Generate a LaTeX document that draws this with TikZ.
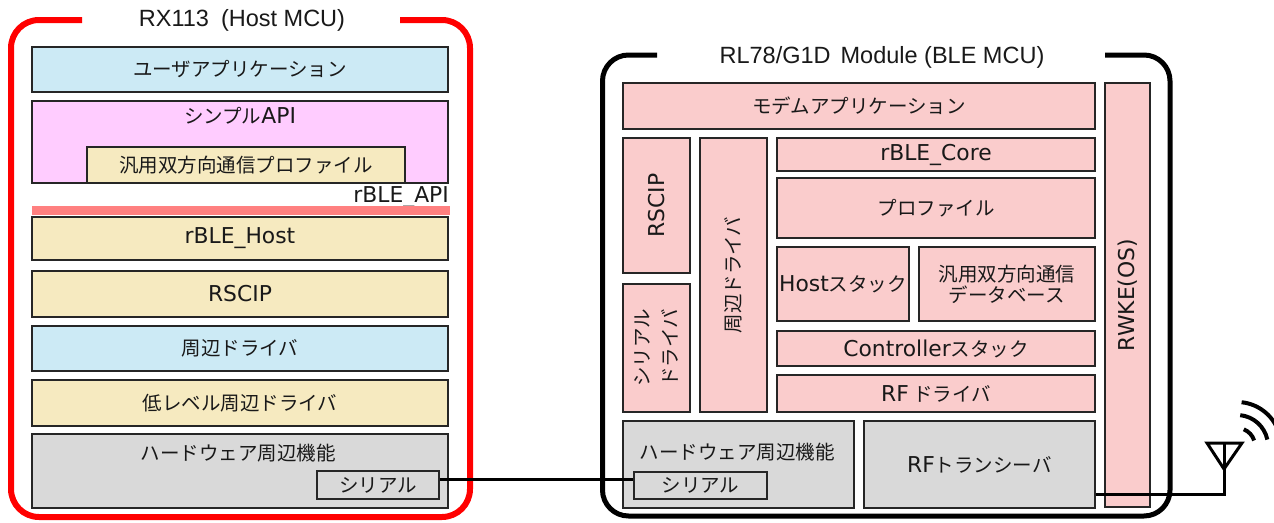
\documentclass[tikz,border=0pt]{standalone}
\usepackage{fontspec}
\usepackage{graphicx}
\setmainfont{Noto Sans CJK JP}
\newfontfamily\lat{DejaVu Sans}[Scale=1.12]
\newfontfamily\ttlf{Liberation Sans}
\definecolor{blueF}{RGB}{204,234,245}
\definecolor{pinkF}{RGB}{255,204,255}
\definecolor{beigeF}{RGB}{246,234,192}
\definecolor{redbar}{RGB}{255,128,128}
\definecolor{rpink}{RGB}{250,204,204}
\definecolor{grayF}{RGB}{217,217,217}
\definecolor{frameRed}{RGB}{255,0,0}
\begin{document}
\begin{tikzpicture}[x=1pt,y=-1pt,
  box/.style={draw=black!85, line width=1.8pt, inner sep=0pt, text=black!90,
    font=\fontsize{19.5}{22}\selectfont},
  txt/.style={inner sep=0pt, text=black!90, font=\fontsize{19.5}{22}\selectfont},
  titletext/.style={inner sep=0pt, text=black!90, font=\ttlf\fontsize{23.5}{27}\selectfont},
  frameL/.style={draw=frameRed, line width=6pt, rounded corners=28pt},
  frameR/.style={draw=black, line width=5pt, rounded corners=26pt},
  conn/.style={draw=black, line width=3pt},
  antline/.style={draw=black, line width=3pt, line join=miter},
  wave/.style={draw=black, line width=4pt}]
\useasboundingbox[fill=white] (0,0) rectangle (1274,522);

% ---------- frames ----------
\draw[frameL] (82,20) -- (11,20) -- (11,517) -- (470,517) -- (470,20) -- (400,20);
\node[titletext] (tL) at (242,20) {RX113\hspace{12pt}(Host MCU)};
\draw[frameR] (657,55) -- (602.5,55) -- (602.5,516) -- (1170,516) -- (1170,55) -- (1105,55);
\node[titletext] (tR) at (882,57) {RL78/G1D\hspace{10pt}Module (BLE MCU)};

% ---------- left (host MCU) ----------
\node[box, fill=blueF, minimum width=416pt, minimum height=45pt] (ua) at (240,69.5) {ユーザアプリケーション};
\node[box, fill=pinkF, minimum width=416pt, minimum height=82pt] (simple) at (240,142) {};
\node[txt] (simpleT) at (240,116) {シンプル{\lat API}};
\node[box, fill=beigeF, minimum width=318pt, minimum height=36pt] (gp) at (246,165) {汎用双方向通信プロファイル};
\node[txt, anchor=east] (api) at (449,197) {\lat rBLE\_API};
\node[fill=redbar, inner sep=0pt, minimum width=418pt, minimum height=9pt] (bar) at (241,210.5) {};
\node[box, fill=beigeF, minimum width=416pt, minimum height=43pt] (host) at (240,238.5) {\lat rBLE\_Host};
\node[box, fill=beigeF, minimum width=416pt, minimum height=46pt] (rscipL) at (240,294) {\lat RSCIP};
\node[box, fill=blueF, minimum width=416pt, minimum height=45pt] (periL) at (240,348.5) {周辺ドライバ};
\node[box, fill=beigeF, minimum width=416pt, minimum height=46pt] (llpd) at (240,403) {低レベル周辺ドライバ};
\node[box, fill=grayF, minimum width=416pt, minimum height=74pt] (hwL) at (240,471) {};
\node[txt] (hwLT) at (238,453) {ハードウェア周辺機能};
\node[box, fill=grayF, minimum width=122pt, minimum height=28pt] (serL) at (378,485) {シリアル};

% ---------- right (BLE MCU) ----------
\node[box, fill=rpink, minimum width=472pt, minimum height=46pt] (modem) at (859,106) {モデムアプリケーション};
\node[box, fill=rpink, rotate=90, minimum width=424pt, minimum height=45pt] (rwke) at (1127.5,295) {\lat RWKE(OS)};
\node[box, fill=rpink, rotate=90, minimum width=135pt, minimum height=67pt] (rscipR) at (656.5,205.5) {\lat RSCIP};
\node[box, fill=rpink, rotate=90, minimum width=128pt, minimum height=67pt, align=center,
  font=\fontsize{19.5}{28}\selectfont] (serdrv) at (656.5,348) {シリアル\\ドライバ};
\node[box, fill=rpink, rotate=90, minimum width=274pt, minimum height=67pt] (periR) at (733.5,275) {周辺ドライバ};
\node[box, fill=rpink, minimum width=318pt, minimum height=33pt] (core) at (936,154.5) {\lat rBLE\_Core};
\node[box, fill=rpink, minimum width=318pt, minimum height=60pt] (prof) at (936,208) {プロファイル};
\node[box, fill=rpink, minimum width=132pt, minimum height=74pt] (hoststk) at (843,284) {{\lat Host}スタック};
\node[box, fill=rpink, minimum width=176pt, minimum height=74pt, align=center,
  font=\fontsize{19.5}{21}\selectfont] (gpdb) at (1007,284) {汎用双方向通信\\データベース};
\node[box, fill=rpink, minimum width=318pt, minimum height=35pt] (ctrl) at (936,348.5) {{\lat Controller}スタック};
\node[box, fill=rpink, minimum width=318pt, minimum height=37pt] (rfdrv) at (936,393.5) {{\lat RF} ドライバ};
\node[box, fill=grayF, minimum width=231pt, minimum height=87pt] (hwR) at (738.5,464.5) {};
\node[txt] (hwRT) at (737,452) {ハードウェア周辺機能};
\node[box, fill=grayF, minimum width=133pt, minimum height=27pt] (serR) at (700.5,485.5) {シリアル};
\node[box, fill=grayF, minimum width=231pt, minimum height=87pt] (rftr) at (979.5,464.5) {{\lat RF}トランシーバ};

% ---------- connectors ----------
\draw[conn] ([yshift=6pt]serL.east) -- ([yshift=6.5pt]serR.west);
\coordinate (apex) at (1224,469);
\coordinate (antL) at (1207,443);
\coordinate (antR) at (1242,443);
\coordinate (antM) at (1224,443);
\draw[conn] ([yshift=-30pt]rftr.east) -| (apex);
\draw[antline] (antL) -- (antR) -- (apex) -- cycle;
\draw[antline] (antM) -- (apex);

% ---------- radio waves ----------
\coordinate (wc) at (1237,446);
\draw[wave] (wc) ++(-68:18) arc[start angle=-68, end angle=-18, radius=18];
\draw[wave] (wc) ++(-84:31) arc[start angle=-84, end angle=-12, radius=31];
\draw[wave] (wc) ++(-84:44) arc[start angle=-84, end angle=-15, radius=44];
\end{tikzpicture}
\end{document}
